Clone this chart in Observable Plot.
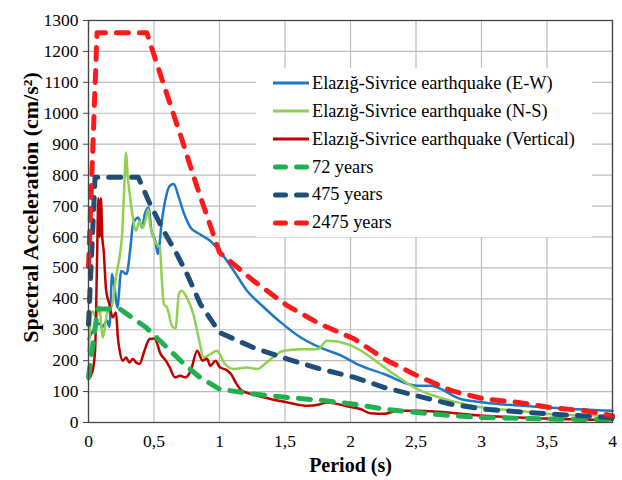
<!DOCTYPE html>
<html>
<head>
<meta charset="utf-8">
<script src="https://cdn.jsdelivr.net/npm/d3@7"></script>
<script src="https://cdn.jsdelivr.net/npm/@observablehq/plot@0.6"></script>
<style>
  html, body { margin: 0; padding: 0; background: #fff; }
  #wrap { position: relative; width: 622px; height: 480px; }
  #wrap svg text { font-family: "Liberation Serif", "Times New Roman", serif; }
  #legend { position: absolute; background: #fff; }
  .row { position: absolute; left: 0; display: flex; align-items: center; height: 28px; font-size: 18.3px; color: #000; white-space: nowrap; font-family: "Liberation Serif", "Times New Roman", serif; }
  .row svg { margin-right: 3px; }
</style>
</head>
<body>
<div id="wrap"></div>
<script>
// ---- data ----
const seriesNames = [
  "Elazığ-Sivrice earthquake (E-W)",
  "Elazığ-Sivrice earthquake (N-S)",
  "Elazığ-Sivrice earthquake (Vertical)",
  "72 years",
  "475 years",
  "2475 years"
];
const seriesColors = ["#1f77c8", "#92d050", "#c00000", "#1fb050", "#1f4e79", "#ff1a1a"];

const periodEW = [0, 0.04, 0.08, 0.11, 0.14, 0.16, 0.18, 0.20, 0.22, 0.25, 0.29, 0.32, 0.34, 0.38, 0.41, 0.43, 0.46, 0.48, 0.51, 0.53, 0.56, 0.59, 0.62, 0.65, 0.69, 0.73, 0.78, 0.85, 0.93, 1.0, 1.11, 1.21, 1.34, 1.47, 1.62, 1.77, 1.93, 2.05, 2.26, 2.51, 2.61, 2.84, 3.02, 3.53, 4.0];
const saEW     = [270, 300, 320, 310, 330, 310, 480, 430, 372, 490, 480, 566, 642, 663, 630, 675, 695, 620, 587, 545, 652, 727, 765, 771, 727, 675, 630, 609, 587, 555, 490, 426, 372, 323, 275, 242, 216, 189, 156, 119, 119, 76, 65, 48, 38];

const periodNS = [0, 0.03, 0.06, 0.08, 0.11, 0.14, 0.18, 0.21, 0.24, 0.255, 0.275, 0.287, 0.30, 0.312, 0.338, 0.364, 0.389, 0.415, 0.44, 0.456, 0.47, 0.52, 0.545, 0.56, 0.575, 0.60, 0.64, 0.665, 0.69, 0.71, 0.75, 0.80, 0.84, 0.88, 0.93, 0.98, 1.04, 1.11, 1.21, 1.29, 1.36, 1.49, 1.62, 1.75, 1.82, 1.98, 2.08, 2.26, 2.51, 2.77, 3.02, 3.28, 3.53, 4.0];
const saNS     = [230, 360, 340, 375, 275, 350, 380, 470, 545, 600, 780, 873, 790, 749, 663, 620, 652, 630, 663, 690, 640, 577, 566, 460, 383, 372, 310, 305, 416, 426, 404, 351, 275, 210, 221, 232, 190, 173, 178, 173, 194, 232, 237, 237, 264, 253, 232, 178, 108, 70, 48, 38, 27, 22];

const periodV = [0, 0.03, 0.05, 0.065, 0.075, 0.085, 0.095, 0.105, 0.115, 0.134, 0.159, 0.185, 0.21, 0.224, 0.236, 0.262, 0.287, 0.312, 0.338, 0.364, 0.389, 0.427, 0.466, 0.504, 0.55, 0.59, 0.62, 0.66, 0.70, 0.74, 0.78, 0.83, 0.87, 0.905, 0.93, 0.97, 1.0, 1.06, 1.09, 1.13, 1.17, 1.26, 1.39, 1.52, 1.67, 1.77, 1.82, 1.98, 2.08, 2.15, 2.26, 2.36, 2.51, 3.02, 3.53, 4.0];
const saV     = [140, 165, 230, 520, 725, 600, 725, 600, 560, 430, 383, 340, 356, 275, 237, 200, 210, 194, 205, 194, 189, 232, 270, 272, 222, 200, 178, 146, 151, 146, 167, 232, 200, 206, 183, 200, 180, 168, 155, 125, 103, 90, 76, 65, 54, 59, 65, 52, 43, 30, 28, 38, 38, 22, 12, 8];

const period72 = [0, 0.07, 0.24, 0.44, 0.6, 0.73, 0.85, 1.0, 1.26, 1.52, 1.77, 2.03, 2.26, 2.51, 2.77, 3.02, 3.53, 4.0];
const sa72     = [146, 367, 367, 307, 242, 189, 146, 108, 92, 81, 72, 59, 43, 32, 22, 16, 11, 9];

const period475 = [0, 0.05, 0.38, 0.47, 0.573, 0.675, 0.752, 0.854, 1.0, 1.26, 1.52, 1.77, 2.03, 2.26, 2.51, 2.77, 3.02, 3.53, 4.0];
const sa475     = [317, 793, 793, 706, 620, 544, 480, 383, 291, 242, 205, 173, 146, 113, 86, 59, 43, 27, 16];

const period2475 = [0, 0.065, 0.445, 0.573, 0.70, 0.83, 1.0, 1.26, 1.52, 1.77, 2.03, 2.26, 2.51, 2.77, 3.02, 3.28, 3.53, 3.79, 4.0];
const sa2475     = [505, 1260, 1260, 1094, 932, 760, 550, 458, 377, 318, 270, 205, 151, 103, 76, 65, 48, 38, 22];

const xTicks = [0, 0.5, 1, 1.5, 2, 2.5, 3, 3.5, 4];
const yTicks = [0, 100, 200, 300, 400, 500, 600, 700, 800, 900, 1000, 1100, 1200, 1300];
const xTitle = "Period (s)";
const yTitle = "Spectral Acceleration (cm/s²)";

// ---- build tables ----
const rows = (T, S) => T.map((t, i) => ({T: t, SA: S[i]}));
const solid = [rows(periodEW, saEW), rows(periodNS, saNS), rows(periodV, saV)];
const dashed = [rows(period72, sa72), rows(period475, sa475), rows(period2475, sa2475)];

const font = "'Liberation Serif', 'Times New Roman', serif";
const chart = Plot.plot({
  width: 622,
  height: 480,
  marginLeft: 88,
  marginRight: 10,
  marginTop: 20,
  marginBottom: 58,
  style: {fontFamily: font, background: "#fff"},
  x: {domain: [0, 4]},
  y: {domain: [0, 1300]},
  marks: [
    Plot.gridY(yTicks, {stroke: "#bdbdbd", strokeOpacity: 1, strokeWidth: 1.2}),
    Plot.gridX(xTicks, {stroke: "#bdbdbd", strokeOpacity: 1, strokeWidth: 1.2}),
    ...solid.map((d, i) => Plot.line(d, {x: "T", y: "SA", stroke: seriesColors[i], strokeWidth: 2.5, curve: "monotone-x"})),
    ...dashed.map((d, i) => Plot.line(d, {x: "T", y: "SA", stroke: seriesColors[i + 3], strokeWidth: 5, strokeDasharray: "12,11", strokeLinecap: "round", curve: "linear"})),
    Plot.frame({stroke: "#444", strokeWidth: 1.3}),
    Plot.axisY(yTicks, {tickSize: 5, tickPadding: 5, fontSize: 17.5, fontFamily: font, label: null, stroke: "#444", fill: "#000", tickFormat: d => String(d)}),
    Plot.axisX(xTicks, {tickSize: 0, tickPadding: 12, fontSize: 17.5, fontFamily: font, label: null, fill: "#000", tickFormat: d => String(d).replace(".", ",")}),
    Plot.text([yTitle], {frameAnchor: "left", textAnchor: "middle", rotate: -90, dx: -58, dy: -14, fontSize: 22, fontWeight: "bold", fontFamily: font, fill: "#000"}),
    Plot.text([xTitle], {frameAnchor: "bottom", dy: 49, fontSize: 20, fontWeight: "bold", fontFamily: font, fill: "#000"})
  ]
});
const wrap = document.getElementById("wrap");
wrap.appendChild(chart);

// ---- legend (inside the plot area, white box) ----
const legend = document.createElement("div");
legend.id = "legend";
Object.assign(legend.style, {left: "256px", top: "68px", width: "336px", height: "169px"});
seriesNames.forEach((name, i) => {
  const row = document.createElement("div");
  row.className = "row";
  row.style.left = "17px";
  row.style.top = (83.3 + 27.9 * i - 68 - 14) + "px";
  const isDashed = i >= 3;
  row.innerHTML = `<svg width="36" height="12"><line x1="${isDashed ? 2.5 : 0}" y1="6" x2="${isDashed ? 33.5 : 36}" y2="6" stroke="${seriesColors[i]}" stroke-width="${isDashed ? 5 : 3}" ${isDashed ? 'stroke-dasharray="10,11" stroke-linecap="round"' : ''}/></svg><span>${name}</span>`;
  legend.appendChild(row);
});
wrap.appendChild(legend);
</script>
</body>
</html>
